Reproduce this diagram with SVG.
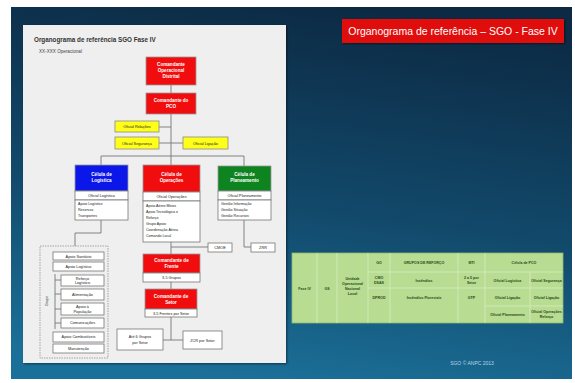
<svg xmlns="http://www.w3.org/2000/svg" width="575" height="383" viewBox="0 0 575 383">
<defs>
<linearGradient id="bg" x1="0.6" y1="0" x2="0.4" y2="1">
<stop offset="0" stop-color="#0c2a44"/>
<stop offset="0.55" stop-color="#124a6c"/>
<stop offset="1" stop-color="#1b7099"/>
</linearGradient>
<filter id="sh" x="-5%" y="-5%" width="110%" height="110%"><feDropShadow dx="1" dy="1" stdDeviation="1.2" flood-color="#000" flood-opacity="0.5"/></filter>
<style>
text{font-family:"Liberation Sans",Arial,sans-serif}
.w{fill:#fff;font-weight:bold;font-size:4.6px;text-anchor:middle}
.k{fill:#222;font-size:3.8px;text-anchor:middle}
.kl{fill:#222;font-size:3.6px}
.red{fill:#f10d0d;stroke:#9a9a9a;stroke-width:0.8}
.blue{fill:#0b16e8;stroke:#9a9a9a;stroke-width:0.8}
.green{fill:#0d8420;stroke:#9a9a9a;stroke-width:0.8}
.yel{fill:#ffff1a;stroke:#8a8a8a;stroke-width:0.8}
.wb{fill:#fff;stroke:#777;stroke-width:0.8}
.ln{fill:none;stroke:#777;stroke-width:0.9}
.tb{fill:#b8dc92;stroke:#d8eec4;stroke-width:0.7}
.tt{fill:#2a4a1a;font-size:3.6px;font-weight:bold;text-anchor:middle}
</style>
</defs>
<rect width="575" height="383" fill="#fff"/>
<rect x="11" y="7" width="561" height="372" fill="url(#bg)"/>
<rect x="23" y="25" width="263" height="338" fill="#efefef" filter="url(#sh)"/>
<text x="34" y="42" font-size="6.3" font-weight="bold" fill="#333">Organograma de referência SGO Fase IV</text>
<text x="39" y="53" font-size="4.6" fill="#444">XX-XXX Operacional</text>

<g id="title">
<rect x="342" y="19" width="222" height="24" fill="#e00b10" filter="url(#sh)"/>
<text x="453" y="35" font-size="10.5" fill="#fff" text-anchor="middle">Organograma de referência – SGO - Fase IV</text>
</g>

<g id="connectors">
<path class="ln" d="M171 85V93M171 114V156M159 127H171M159 143H183M101 156H244M101 156V165M171 156V165M244 156V166"/>
<path class="ln" d="M101 220V233H75V246"/>
<path class="ln" d="M171 242V254M171 247H208M244 220V247H251"/>
<path class="ln" d="M171 282V289M171 317V340M163 340H183"/>
<path class="ln" d="M55 274V329M55 280H61M55 294H61M55 309H61M55 323H61"/>
</g>

<g id="n-cod"><rect class="red" x="146" y="57" width="50" height="28"/>
<text class="w" x="171" y="66">Comandante</text><text class="w" x="171" y="72">Operacional</text><text class="w" x="171" y="78">Distrital</text></g>
<g id="n-cos"><rect class="red" x="146" y="93" width="50" height="21"/>
<text class="w" x="171" y="102">Comandante do</text><text class="w" x="171" y="108">PCO</text></g>

<g id="n-y1"><rect class="yel" x="115" y="121" width="44" height="11"/><text class="k" x="137" y="128">Oficial Relações</text></g>
<g id="n-y2"><rect class="yel" x="115" y="137" width="44" height="12"/><text class="k" x="137" y="144.5">Oficial Segurança</text></g>
<g id="n-y3"><rect class="yel" x="183" y="137" width="45" height="12"/><text class="k" x="205.5" y="144.5">Oficial Ligação</text></g>

<g id="n-log">
<rect class="blue" x="75" y="165" width="53" height="26"/>
<text class="w" x="101.5" y="176">Célula de</text><text class="w" x="101.5" y="182">Logística</text>
<rect class="wb" x="75" y="191" width="53" height="9"/><text class="k" x="101.5" y="197">Oficial Logística</text>
<rect class="wb" x="75" y="200" width="53" height="20"/>
<text class="kl" x="78" y="205">Apoio Logístico</text><text class="kl" x="78" y="211">Reservas</text><text class="kl" x="78" y="217">Transportes</text>
</g>

<g id="n-ops">
<rect class="red" x="143" y="165" width="57" height="27"/>
<text class="w" x="171.5" y="176">Célula de</text><text class="w" x="171.5" y="182">Operações</text>
<rect class="wb" x="143" y="192" width="57" height="9"/><text class="k" x="171.5" y="198">Oficial Operações</text>
<rect class="wb" x="143" y="201" width="57" height="41"/>
<text class="kl" x="146" y="207">Apoio Aéreo Meios</text><text class="kl" x="146" y="213">Apoio Tecnológico e</text><text class="kl" x="146" y="219">Reforço</text><text class="kl" x="146" y="225">Grupo Apoio</text><text class="kl" x="146" y="231">Coordenação Aérea</text><text class="kl" x="146" y="237">Comando Local</text>
</g>

<g id="n-pla">
<rect class="green" x="218" y="166" width="53" height="25"/>
<text class="w" x="244.5" y="176">Célula de</text><text class="w" x="244.5" y="182">Planeamento</text>
<rect class="wb" x="218" y="191" width="53" height="9"/><text class="k" x="244.5" y="197">Oficial Planeamento</text>
<rect class="wb" x="218" y="200" width="53" height="20"/>
<text class="kl" x="221" y="205">Gestão Informação</text><text class="kl" x="221" y="211">Gestão Situação</text><text class="kl" x="221" y="217">Gestão Recursos</text>
</g>

<g id="n-cmoe"><rect class="wb" x="208" y="243" width="24" height="9"/><text class="k" x="220" y="249">CMOE</text></g>
<g id="n-zrr"><rect class="wb" x="251" y="243" width="24" height="9"/><text class="k" x="263" y="249">ZRR</text></g>

<g id="n-frente">
<rect class="red" x="143" y="254" width="57" height="19"/>
<text class="w" x="171.5" y="262">Comandante de</text><text class="w" x="171.5" y="268">Frente</text>
<rect class="wb" x="143" y="273" width="57" height="9"/><text class="k" x="171.5" y="279">3-5 Grupos</text>
</g>
<g id="n-setor">
<rect class="red" x="145" y="289" width="52" height="20"/>
<text class="w" x="171" y="297.5">Comandante de</text><text class="w" x="171" y="303.5">Setor</text>
<rect class="wb" x="145" y="309" width="52" height="8"/><text class="k" x="171" y="314.5">3-5 Frentes por Setor</text>
</g>
<g id="n-grupos"><rect class="wb" x="117" y="329" width="46" height="21"/><text class="k" x="140" y="338">Até 6 Grupos</text><text class="k" x="140" y="344">por Setor</text></g>
<g id="n-zcr"><rect class="wb" x="183" y="331" width="39" height="18"/><text class="k" x="202.5" y="341.5">ZCR por Setor</text></g>

<g id="n-apoio">
<rect x="40" y="246" width="68" height="112" fill="none" stroke="#888" stroke-width="0.7" stroke-dasharray="1.5,1"/>
<text class="kl" transform="translate(48 301) rotate(-90)" text-anchor="middle">Grupo</text>
<rect class="wb" x="53" y="252" width="51" height="8"/><text class="k" x="78.5" y="257.5">Apoio Sanitário</text>
<rect class="wb" x="53" y="262" width="51" height="9"/><text class="k" x="78.5" y="268">Apoio Logístico</text>
<rect class="wb" x="61" y="275" width="43" height="11"/><text class="k" x="82.5" y="279.5">Reforço</text><text class="k" x="82.5" y="284">Logístico</text>
<rect class="wb" x="61" y="289" width="43" height="11"/><text class="k" x="82.5" y="295.5">Alimentação</text>
<rect class="wb" x="61" y="303" width="43" height="12"/><text class="k" x="82.5" y="308">Apoio à</text><text class="k" x="82.5" y="313">População</text>
<rect class="wb" x="61" y="318" width="43" height="10"/><text class="k" x="82.5" y="324">Comunicações</text>
<rect class="wb" x="53" y="332" width="51" height="10"/><text class="k" x="78.5" y="338">Apoio Combustíveis</text>
<rect class="wb" x="53" y="344" width="51" height="9"/><text class="k" x="78.5" y="350">Manutenção</text>
</g>

<g id="table">
<rect x="292" y="253" width="271" height="70" fill="#b8dc92" stroke="#8fb86a" stroke-width="0.8"/>
<path d="M317 253V323M337 253V323M368 253V323M390 253V323M458 253V323M485 253V323M530 272V323M368 272H563M368 288H563M485 306H563" stroke="#d6ecc0" stroke-width="0.8" fill="none"/>
<text class="tt" x="304.5" y="290">Fase IV</text>
<text class="tt" x="327" y="290">GS</text>
<text class="tt" x="352.5" y="280">Unidade</text><text class="tt" x="352.5" y="285">Operacional</text><text class="tt" x="352.5" y="290">Nacional</text><text class="tt" x="352.5" y="295">Local</text>
<text class="tt" x="379" y="264">GO</text>
<text class="tt" x="424" y="264">GRUPOS DE REFORÇO</text>
<text class="tt" x="471.5" y="264">MTI</text>
<text class="tt" x="524" y="264">Célula de PCO</text>
<text class="tt" x="379" y="279">CMO</text><text class="tt" x="379" y="284">DSAS</text>
<text class="tt" x="424" y="281.5">Incêndios</text>
<text class="tt" x="471.5" y="279">2 a 5 por</text><text class="tt" x="471.5" y="284">Setor</text>
<text class="tt" x="507.5" y="281.5">Oficial Logística</text>
<text class="tt" x="546.5" y="281.5">Oficial Segurança</text>
<text class="tt" x="379" y="298.5">DPROD</text>
<text class="tt" x="424" y="298.5">Incêndios Florestais</text>
<text class="tt" x="471.5" y="298.5">GTP</text>
<text class="tt" x="507.5" y="298.5">Oficial Ligação</text>
<text class="tt" x="546.5" y="298.5">Oficial Ligação</text>
<text class="tt" x="507.5" y="316">Oficial Planeamento</text>
<text class="tt" x="546.5" y="313">Oficial Operações</text><text class="tt" x="546.5" y="318">Reforço</text>
</g>

<text x="472" y="365" font-size="5" fill="#b8d4e4" text-anchor="middle">SGO © ANPC 2013</text>
</svg>
